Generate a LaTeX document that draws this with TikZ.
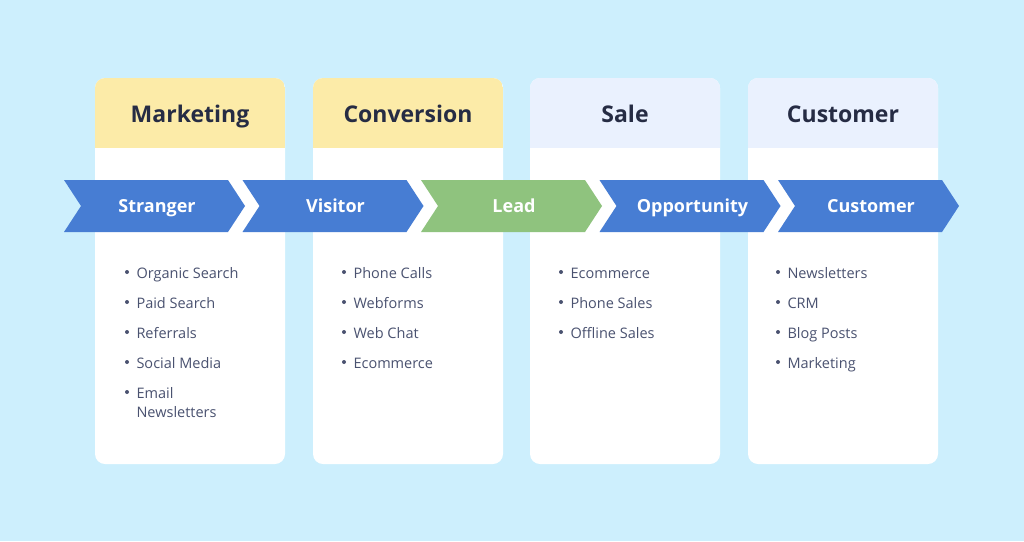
\documentclass[tikz,border=0pt]{standalone}
\usepackage{fontspec}
\setmainfont{Open Sans}
\definecolor{bg}{HTML}{CDEFFD}
\definecolor{yel}{HTML}{FCEBA8}
\definecolor{lav}{HTML}{EAF1FE}
\definecolor{blu}{HTML}{477DD3}
\definecolor{grn}{HTML}{8FC37E}
\definecolor{navy}{HTML}{262C44}
\definecolor{txt}{HTML}{4A5270}
\begin{document}
\begin{tikzpicture}[x=1pt,y=-1pt,
  fixh/.style={text height=1.5ex, text depth=.4ex},
  hdr/.style={fixh, font=\fontsize{23}{26}\selectfont\bfseries, text=navy},
  chv/.style={fixh, font=\fontsize{18}{20}\selectfont\bfseries, text=white},
  itm/.style={fixh, font=\fontsize{14.5}{18}\selectfont, text=txt, anchor=west, align=left},
  dot/.style={circle, fill=txt, inner sep=0pt, minimum size=4pt}]
\fill[bg] (0,0) rectangle (1024,541);
\useasboundingbox (0,0) rectangle (1024,541);
\foreach \x/\c/\t [count=\i] in {95/yel/Marketing,313/yel/Conversion,530/lav/Sale,748/lav/Customer}{
  \fill[white,rounded corners=10pt] (\x,78) rectangle ++(190,386);
  \begin{scope}
  \clip[rounded corners=10pt] (\x,78) rectangle ++(190,386);
  \fill[\c] (\x,78) rectangle ++(190,70);
  \end{scope}
  \node[hdr] (h\i) at (\x+95,120) {\t};
}
\foreach \t/\c [count=\i] in {Stranger/blu,Visitor/blu,Lead/grn,Opportunity/blu,Customer/blu}{
  \pgfmathsetmacro{\xo}{64+178.5*(\i-1)}
  \fill[\c] (\xo,180) -- (\xo+164,180) -- (\xo+181,206) -- (\xo+164,232) -- (\xo,232) -- (\xo+17,206) -- cycle;
  \node[chv] (c\i) at (\xo+93,210) {\t};
}
\foreach \x/\lst in {127/{Organic Search,Paid Search,Referrals,Social Media,Email},
                     344/{Phone Calls,Webforms,Web Chat,Ecommerce},
                     561/{Ecommerce,Phone Sales,Offline Sales},
                     778/{Newsletters,CRM,Blog Posts,Marketing}}{
  \foreach \t [count=\j] in \lst {
    \node[dot] (d\x\j) at (\x,272+30*\j-30) {};
    \node[itm] (t\x\j) at (\x+6,276+30*\j-30) {\t};
  }
}
\node[itm] (nl) at (133,415) {Newsletters};
\end{tikzpicture}
\end{document}
